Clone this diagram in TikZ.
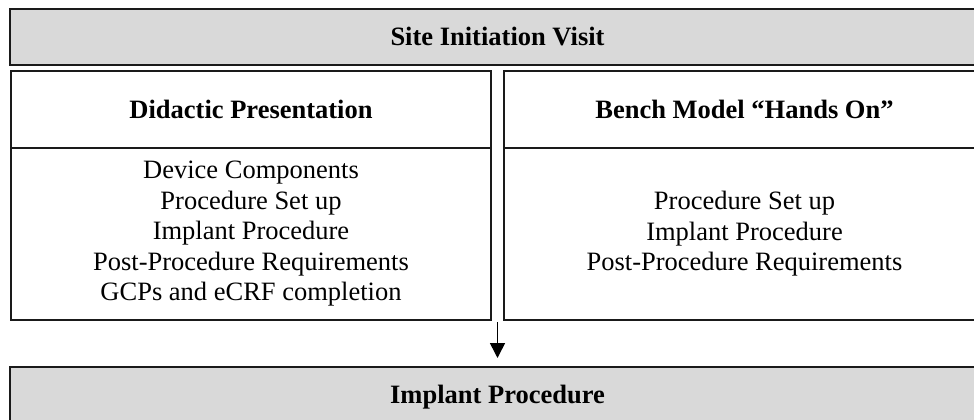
\documentclass[tikz,border=0pt]{standalone}
\usepackage{fontspec}
\setmainfont{Liberation Serif}
\usetikzlibrary{arrows.meta}
\definecolor{boxgray}{HTML}{D9D9D9}
\definecolor{edge}{HTML}{1A1A1A}
\begin{document}
\begin{tikzpicture}[x=1pt,y=-1pt,
  every node/.style={inner sep=0pt,outer sep=0pt,font=\fontsize{26.5}{30.5}\selectfont,align=center},
  band/.style={draw=edge,line width=2pt,fill=boxgray,anchor=north west,minimum width=975pt,minimum height=#1},
  panel/.style={draw=edge,line width=2pt,fill=white,anchor=north west,minimum width=#1},
  headh/.style={minimum height=77pt},
  bodyh/.style={minimum height=172pt},
  flow/.style={draw=black,line width=1.6pt,-{Triangle[length=15pt,width=15pt]}}]
\useasboundingbox (0,0) rectangle (974,420);
\clip (0,0) rectangle (974,420);
\fill[white] (0,0) rectangle (974,420);

% top band
\node[band=56pt] (siv) at (10,9) {\bfseries Site Initiation Visit};

% left column
\node[panel=480pt,headh] (didhead) at (11,71) {\bfseries Didactic Presentation};
\node[panel=480pt,bodyh] (didbody) at (11,148)
  {Device Components\\Procedure Set up\\Implant Procedure\\Post-Procedure Requirements\\GCPs and eCRF completion};

% right column
\node[panel=481pt,headh] (benchhead) at (504,71) {\bfseries Bench Model “Hands On”};
\node[panel=481pt,bodyh] (benchbody) at (504,148)
  {Procedure Set up\\Implant Procedure\\Post-Procedure Requirements};

% bottom band
\node[band=60pt] (impl) at (10,367) {\bfseries Implant Procedure};

% arrow between the columns down to the bottom band
\coordinate (split) at (impl.north |- 0,322);
\draw[flow,shorten >=9pt] (split) -- (impl.north);
\end{tikzpicture}
\end{document}
